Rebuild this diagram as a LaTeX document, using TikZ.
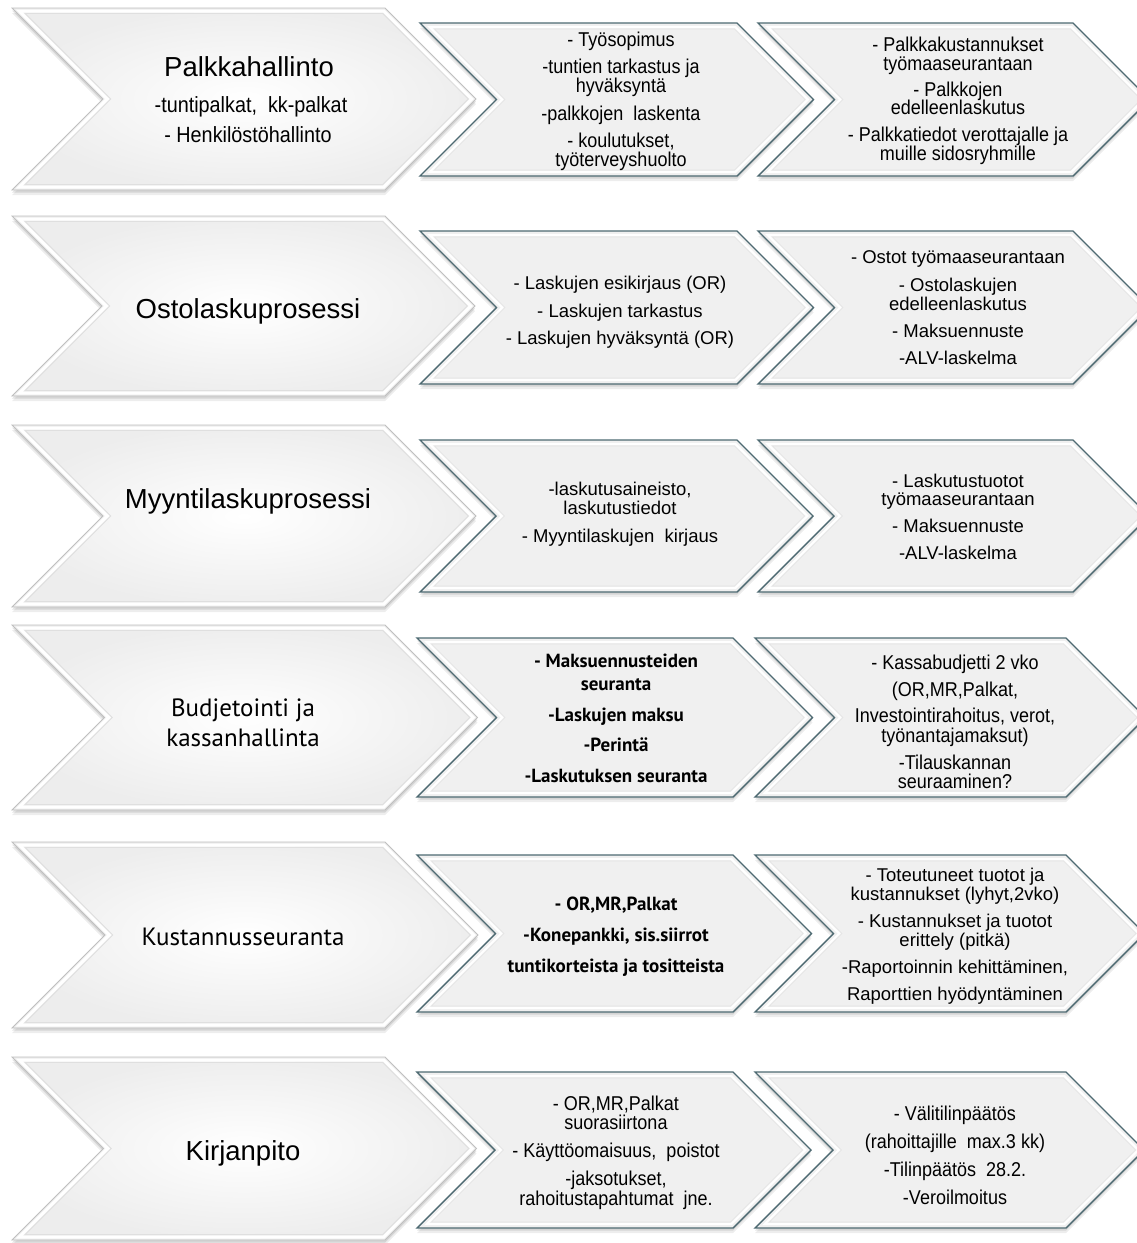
\documentclass[tikz,border=0pt]{standalone}
\usepackage{fontspec}
\setmainfont{Liberation Sans}
\newfontfamily\condf[FakeStretch=0.9]{Liberation Sans}
\newfontfamily\gillf{PT Sans}
\definecolor{edgec}{HTML}{4E6A72}
\definecolor{mfill}{HTML}{F0F0F0}
\definecolor{txtc}{HTML}{000000}
\newcommand\chev[6]{%
 \pgfmathsetmacro\chT{(#2)+(#5)}%
 \pgfmathsetmacro\chB{(#4)-(#5)}%
 \pgfmathsetmacro\chC{((#2)+(#4))/2}%
 \pgfmathsetmacro\chD{((#4)-(#2))/2}%
 \pgfmathsetmacro\chLa{(#1)+2.414*(#5)}%
 \pgfmathsetmacro\chLn{(#1)+\chD+1.414*(#5)}%
 \pgfmathsetmacro\chRa{(#3)-0.414*(#5)}%
 \pgfmathsetmacro\chRt{(#3)+\chD-1.414*(#5)}%
 \path[#6] (\chLa,\chT) -- (\chRa,\chT) -- (\chRt,\chC) -- (\chRa,\chB) -- (\chLa,\chB) -- (\chLn,\chC) -- cycle;}
\newcommand\bigchev[2]{%
 \chev{12}{(#1)+5}{385}{(#2)+5}{0}{fill=black,opacity=0.07}%
 \chev{12}{(#1)+2.5}{385}{(#2)+2.5}{0}{fill=black,opacity=0.10}%
 \chev{12}{#1}{385}{#2}{0}{draw=gray!50,line width=0.8pt,inner color=white,outer color=gray!14,shading=radial,shade}%
 \chev{12}{#1}{385}{#2}{3}{draw=white,line width=3pt}%
 \chev{12}{#1}{385}{#2}{5.5}{draw=gray!25,line width=0.8pt}}
\newcommand\medchev[4]{%
 \chev{#1}{(#2)+5}{#3}{(#4)+5}{0}{fill=black,opacity=0.07}%
 \chev{#1}{(#2)+2.5}{#3}{(#4)+2.5}{0}{fill=black,opacity=0.10}%
 \chev{#1}{#2}{#3}{#4}{0}{fill=mfill,draw=edgec,line width=1.4pt}%
 \chev{#1}{#2}{#3}{#4}{4}{draw=white,line width=2pt}%
 \chev{#1}{#2}{#3}{#4}{6}{draw=gray!22,line width=0.6pt}}
\tikzset{
 tl/.style={anchor=base,inner sep=0pt,text=txtc},
 ttl/.style={tl,font=\fontsize{27.5}{30}\selectfont},
 sub/.style={tl,font=\condf\fontsize{22}{24}\selectfont},
 cnd/.style={tl,font=\condf\fontsize{20}{22}\selectfont},
 nrm/.style={tl,font=\fontsize{18.5}{20}\selectfont},
 gtl/.style={tl,font=\gillf\fontsize{25}{28}\selectfont},
 gbd/.style={tl,font=\gillf\bfseries\fontsize{19}{22}\selectfont},
}
\begin{document}
\begin{tikzpicture}[x=1pt,y=-1pt]
\useasboundingbox (0,0) rectangle (1137,1243);
\fill[white] (0,0) rectangle (1137,1243);
\clip (0,0) rectangle (1137,1243);
% ---------- Row 1
\bigchev{8}{190}
\medchev{420}{23}{737}{176}
\medchev{758}{23}{1073}{176}
\node[ttl] (r1t) at (249,76.5) {Palkkahallinto};
\node[sub] (r1s1) at (251,112) {-tuntipalkat,\ \ kk-palkat};
\node[sub] (r1s2) at (248,142) {- Henkilöstöhallinto};
\node[cnd] (r1a1) at (621,46.5) {- Työsopimus};
\node[cnd] (r1a2) at (621,73.5) {-tuntien tarkastus ja};
\node[cnd] (r1a3) at (621,92.5) {hyväksyntä};
\node[cnd] (r1a4) at (621,120.5) {-palkkojen\ \ laskenta};
\node[cnd] (r1a5) at (621,147.5) {- koulutukset,};
\node[cnd] (r1a6) at (621,166.5) {työterveyshuolto};
\node[cnd] (r1b1) at (958,51.5) {- Palkkakustannukset};
\node[cnd] (r1b2) at (958,70.5) {työmaaseurantaan};
\node[cnd] (r1b3) at (958,96.5) {- Palkkojen};
\node[cnd] (r1b4) at (958,114.5) {edelleenlaskutus};
\node[cnd] (r1b5) at (958,141.5) {- Palkkatiedot verottajalle ja};
\node[cnd] (r1b6) at (958,160.5) {muille sidosryhmille};
% ---------- Row 2
\bigchev{216}{396}
\medchev{420}{231}{737}{384}
\medchev{758}{231}{1073}{384}
\node[ttl] (r2t) at (248,318.5) {Ostolaskuprosessi};
\node[nrm] (r2a1) at (620,289.5) {- Laskujen esikirjaus (OR)};
\node[nrm] (r2a2) at (620,317.5) {- Laskujen tarkastus};
\node[nrm] (r2a3) at (620,344.5) {- Laskujen hyväksyntä (OR)};
\node[nrm] (r2b1) at (958,263.5) {- Ostot työmaaseurantaan};
\node[nrm] (r2b2) at (958,291.5) {- Ostolaskujen};
\node[nrm] (r2b3) at (958,310.5) {edelleenlaskutus};
\node[nrm] (r2b4) at (958,337.5) {- Maksuennuste};
\node[nrm] (r2b5) at (958,364.5) {-ALV-laskelma};
% ---------- Row 3
\bigchev{425}{607}
\medchev{420}{440}{737}{592}
\medchev{758}{440}{1073}{592}
\node[ttl] (r3t) at (248,508.5) {Myyntilaskuprosessi};
\node[nrm] (r3a1) at (620,495.5) {-laskutusaineisto,};
\node[nrm] (r3a2) at (620,514.5) {laskutustiedot};
\node[nrm] (r3a3) at (620,542.5) {- Myyntilaskujen\ \ kirjaus};
\node[nrm] (r3b1) at (958,487.5) {- Laskutustuotot};
\node[nrm] (r3b2) at (958,505.5) {työmaaseurantaan};
\node[nrm] (r3b3) at (958,532.5) {- Maksuennuste};
\node[nrm] (r3b4) at (958,559.5) {-ALV-laskelma};
% ---------- Row 4
\bigchev{625}{810}
\medchev{417}{638}{733}{797}
\medchev{755}{638}{1066}{797}
\node[gtl] (r4t1) at (243,716) {Budjetointi ja};
\node[gtl] (r4t2) at (243,746) {kassanhallinta};
\node[gbd] (r4a1) at (616,667.5) {- Maksuennusteiden};
\node[gbd] (r4a2) at (616,690.5) {seuranta};
\node[gbd] (r4a3) at (616,721.5) {-Laskujen maksu};
\node[gbd] (r4a4) at (616,751.5) {-Perintä};
\node[gbd] (r4a5) at (616,782.5) {-Laskutuksen seuranta};
\node[cnd] (r4b1) at (955,669.5) {- Kassabudjetti 2 vko};
\node[cnd] (r4b2) at (955,696.5) {(OR,MR,Palkat,};
\node[cnd] (r4b3) at (955,722.5) {Investointirahoitus, verot,};
\node[cnd] (r4b4) at (955,742.5) {työnantajamaksut)};
\node[cnd] (r4b5) at (955,769.5) {-Tilauskannan};
\node[cnd] (r4b6) at (955,788.5) {seuraaminen?};
% ---------- Row 5
\bigchev{842}{1028}
\medchev{417}{855}{733}{1012}
\medchev{755}{855}{1066}{1012}
\node[gtl] (r5t) at (243,945) {Kustannusseuranta};
\node[gbd] (r5a1) at (616,910.5) {- OR,MR,Palkat};
\node[gbd] (r5a2) at (616,941.5) {-Konepankki, sis.siirrot};
\node[gbd] (r5a3) at (616,972.5) {tuntikorteista ja tositteista};
\node[nrm] (r5b1) at (955,881.5) {- Toteutuneet tuotot ja};
\node[nrm] (r5b2) at (955,900.5) {kustannukset (lyhyt,2vko)};
\node[nrm] (r5b3) at (955,927.5) {- Kustannukset ja tuotot};
\node[nrm] (r5b4) at (955,946.5) {erittely (pitkä)};
\node[nrm] (r5b5) at (955,973.5) {-Raportoinnin kehittäminen,};
\node[nrm] (r5b6) at (955,1000.5) {Raporttien hyödyntäminen};
% ---------- Row 6
\bigchev{1057}{1240}
\medchev{417}{1072}{733}{1228}
\medchev{755}{1072}{1066}{1228}
\node[ttl] (r6t) at (243,1160.5) {Kirjanpito};
\node[cnd] (r6a1) at (616,1110.5) {- OR,MR,Palkat};
\node[cnd] (r6a2) at (616,1129.5) {suorasiirtona};
\node[cnd] (r6a3) at (616,1157.5) {- Käyttöomaisuus,\ \ poistot};
\node[cnd] (r6a4) at (616,1185.5) {-jaksotukset,};
\node[cnd] (r6a5) at (616,1205.5) {rahoitustapahtumat\ \ jne.};
\node[cnd] (r6b1) at (955,1120.5) {- Välitilinpäätös};
\node[cnd] (r6b2) at (955,1148.5) {(rahoittajille\ \ max.3 kk)};
\node[cnd] (r6b3) at (955,1176.5) {-Tilinpäätös\ \ 28.2.};
\node[cnd] (r6b4) at (955,1204.5) {-Veroilmoitus};
\end{tikzpicture}
\end{document}
